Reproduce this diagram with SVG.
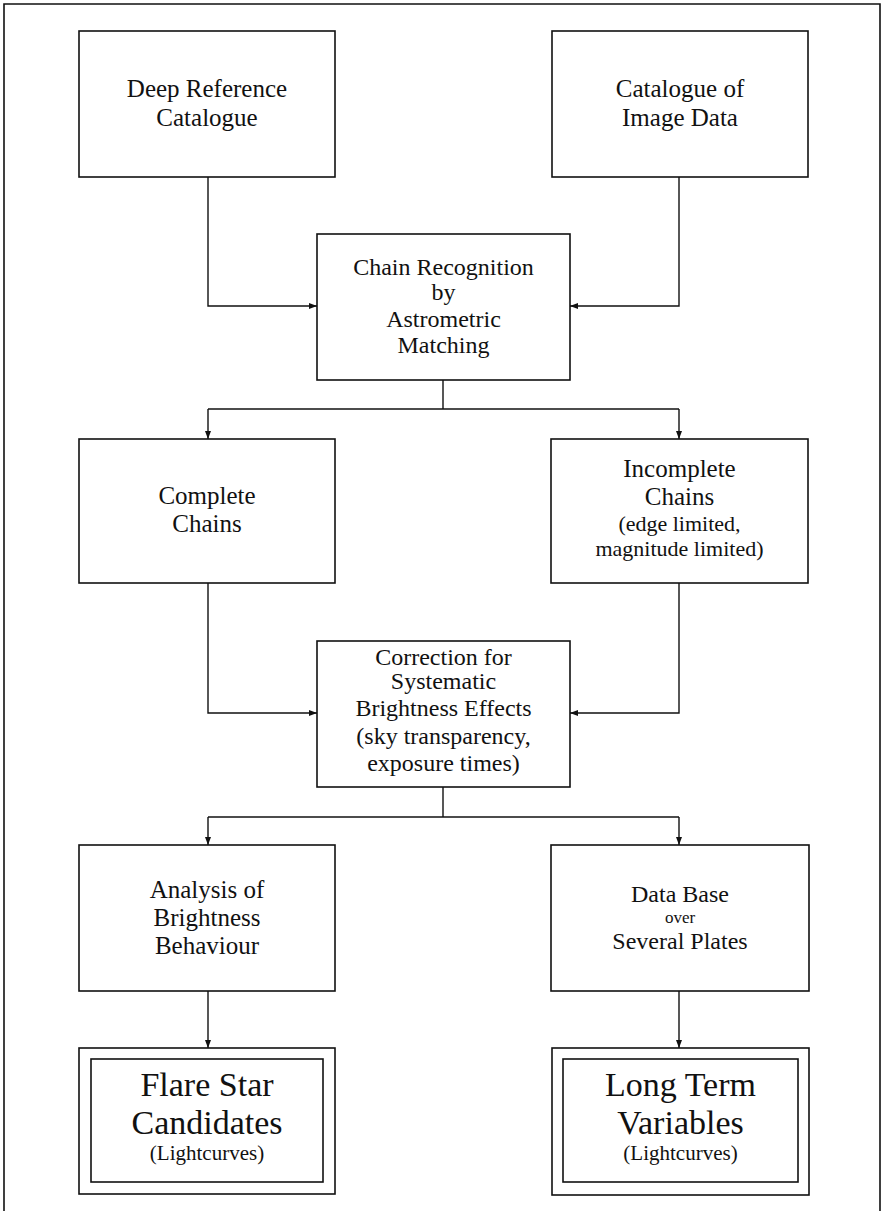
<svg xmlns="http://www.w3.org/2000/svg" width="884" height="1211" viewBox="0 0 884 1211">
<style>
  .box { fill: none; stroke: #111; stroke-width: 1.6; }
  .line { fill: none; stroke: #111; stroke-width: 1.4; }
  text { font-family: "Liberation Serif", "Times New Roman", serif; fill: #111; text-anchor: middle; }
  .t { font-size: 25px; }
  .m { font-size: 24px; }
  .s { font-size: 22px; }
  .xs { font-size: 17px; }
  .lc { font-size: 21px; }
  .big { font-size: 34px; }
</style>
<defs>
  <marker id="ah" viewBox="0 0 8 6" refX="8" refY="3" markerWidth="8" markerHeight="6" markerUnits="userSpaceOnUse" orient="auto">
    <path d="M0,0 L8,3 L0,6 Z" fill="#111"/>
  </marker>
</defs>
<rect width="884" height="1211" fill="#fff"/>
<path class="box" d="M4,1211 V4 H880 V1211"/>

<g id="connectors">
  <path class="line" d="M208,177 V306 H317" marker-end="url(#ah)"/>
  <path class="line" d="M679,177 V306 H570" marker-end="url(#ah)"/>
  <path class="line" d="M443,380 V409"/>
  <path class="line" d="M208,409 H679"/>
  <path class="line" d="M208,409 V439" marker-end="url(#ah)"/>
  <path class="line" d="M679,409 V439" marker-end="url(#ah)"/>
  <path class="line" d="M208,583 V713 H317" marker-end="url(#ah)"/>
  <path class="line" d="M679,583 V713 H570" marker-end="url(#ah)"/>
  <path class="line" d="M443,787 V817"/>
  <path class="line" d="M208,817 H679"/>
  <path class="line" d="M208,817 V845" marker-end="url(#ah)"/>
  <path class="line" d="M679,817 V845" marker-end="url(#ah)"/>
  <path class="line" d="M208,991 V1048" marker-end="url(#ah)"/>
  <path class="line" d="M679,991 V1048" marker-end="url(#ah)"/>
</g>

<g id="deep-reference">
  <rect class="box" x="79" y="31" width="256" height="146"/>
  <text class="t" x="207" y="97">Deep Reference</text>
  <text class="t" x="207" y="126">Catalogue</text>
</g>
<g id="catalogue-image">
  <rect class="box" x="552" y="31" width="256" height="146"/>
  <text class="t" x="680" y="97">Catalogue of</text>
  <text class="t" x="680" y="126">Image Data</text>
</g>
<g id="chain-recognition">
  <rect class="box" x="317" y="234" width="253" height="146"/>
  <text class="m" x="443.5" y="275">Chain Recognition</text>
  <text class="m" x="443.5" y="300">by</text>
  <text class="m" x="443.5" y="327">Astrometric</text>
  <text class="m" x="443.5" y="353">Matching</text>
</g>
<g id="complete-chains">
  <rect class="box" x="79" y="439" width="256" height="144"/>
  <text class="t" x="207" y="504">Complete</text>
  <text class="t" x="207" y="532">Chains</text>
</g>
<g id="incomplete-chains">
  <rect class="box" x="551" y="439" width="257" height="144"/>
  <text class="t" x="679.5" y="477">Incomplete</text>
  <text class="t" x="679.5" y="505">Chains</text>
  <text class="s" x="679.5" y="531">(edge limited,</text>
  <text class="s" x="679.5" y="556">magnitude limited)</text>
</g>
<g id="correction">
  <rect class="box" x="317" y="641" width="253" height="146"/>
  <text class="m" x="443.5" y="665">Correction for</text>
  <text class="m" x="443.5" y="689">Systematic</text>
  <text class="m" x="443.5" y="716">Brightness Effects</text>
  <text class="m" x="443.5" y="744">(sky transparency,</text>
  <text class="m" x="443.5" y="771">exposure times)</text>
</g>
<g id="analysis">
  <rect class="box" x="79" y="845" width="256" height="146"/>
  <text class="t" x="207" y="898">Analysis of</text>
  <text class="t" x="207" y="926">Brightness</text>
  <text class="t" x="207" y="954">Behaviour</text>
</g>
<g id="data-base">
  <rect class="box" x="551" y="845" width="258" height="146"/>
  <text class="m" x="680" y="902">Data Base</text>
  <text class="xs" x="680" y="923">over</text>
  <text class="m" x="680" y="948.5">Several Plates</text>
</g>
<g id="flare-star">
  <rect class="box" x="79" y="1048" width="256" height="146"/>
  <rect class="box" x="91" y="1059" width="232" height="123"/>
  <text class="big" x="207" y="1096">Flare Star</text>
  <text class="big" x="207" y="1134">Candidates</text>
  <text class="lc" x="207" y="1160">(Lightcurves)</text>
</g>
<g id="long-term">
  <rect class="box" x="552" y="1048" width="257" height="147"/>
  <rect class="box" x="563" y="1059" width="235" height="123"/>
  <text class="big" x="680.5" y="1096">Long Term</text>
  <text class="big" x="680.5" y="1134">Variables</text>
  <text class="lc" x="680.5" y="1160">(Lightcurves)</text>
</g>
</svg>
